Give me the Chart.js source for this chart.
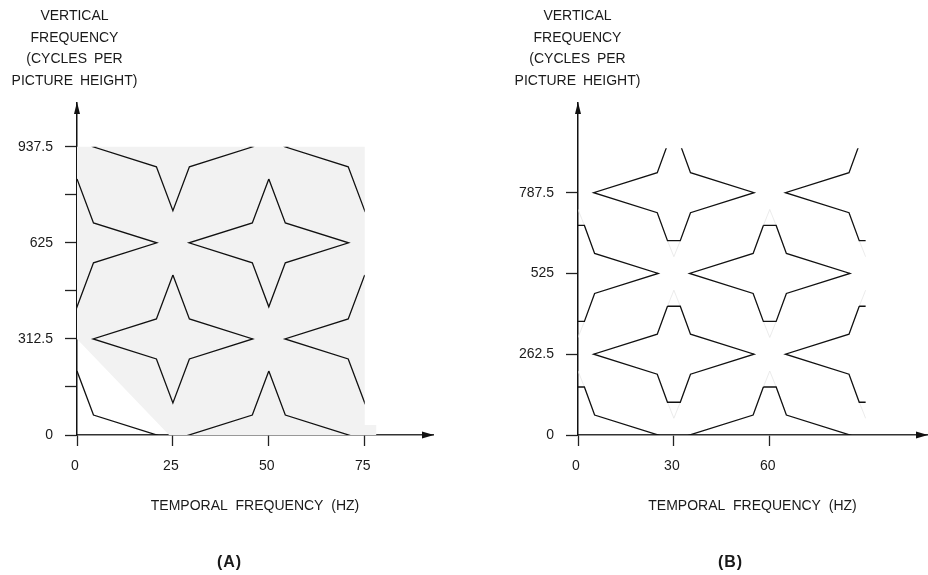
<!DOCTYPE html>
<html><head><meta charset="utf-8">
<script src="https://cdn.jsdelivr.net/npm/chart.js@4.4.1/dist/chart.umd.min.js"></script>
<style>
html,body{margin:0;padding:0;background:#fff;}
body{width:928px;height:575px;position:relative;overflow:hidden;font-family:"Liberation Sans",Arial,Helvetica,sans-serif;color:#1a1a1a;}
.cv{position:absolute;top:0;width:464px;height:575px;}
.ytitle{position:absolute;top:5px;width:220px;text-align:center;font-size:14px;line-height:21.5px;word-spacing:3px;white-space:nowrap;}
.panel{position:absolute;top:552px;width:80px;text-align:center;font-size:16px;font-weight:bold;line-height:20px;letter-spacing:1px;}
</style></head><body>
<div class="cv" style="left:0"><canvas id="cA" width="464" height="575"></canvas></div>
<div class="cv" style="left:464px"><canvas id="cB" width="464" height="575"></canvas></div>
<div class="ytitle" style="left:-35.5px">VERTICAL<br>FREQUENCY<br>(CYCLES PER<br>PICTURE HEIGHT)</div>
<div class="ytitle" style="left:467.5px">VERTICAL<br>FREQUENCY<br>(CYCLES PER<br>PICTURE HEIGHT)</div>
<div class="panel" style="left:189.5px">(A)</div>
<div class="panel" style="left:690.5px">(B)</div>
<script>
// ---------- Panel A data ----------
const aXTicks = [0, 25, 50, 75];
const aXLabels = ['0', '25', '50', '75'];
const aYTicks = [0, 156.25, 312.5, 468.75, 625, 781.25, 937.5];
const aYLabels = ['0', '', '312.5', '', '625', '', '937.5'];
const aCentersX = [0, 50, 25, 75, 0, 50, 25, 75];
const aCentersY = [0, 0, 312.5, 312.5, 625, 625, 937.5, 937.5];
const aStarDX = [0, 4.3, 20.8, 4.3, 0, -4.3, -20.8, -4.3, 0];
const aStarDY = [208, 65, 0, -65, -208, -65, 0, 65, 208];
const aShadeX = [0, 0, 75, 75, 78, 78, 24];
const aShadeY = [312.5, 937.5, 937.5, 32.5, 32.5, 0, 0];
const aClip = [0, 75, 0, 937.5];

// ---------- Panel B data ----------
const bXTicks = [0, 30, 60];
const bXLabels = ['0', '30', '60'];
const bYTicks = [0, 262.5, 525, 787.5];
const bYLabels = ['0', '262.5', '525', '787.5'];
const bCentersX = [0, 60, 30, 90, 0, 60, 30, 90];
const bCentersY = [0, 0, 262.5, 262.5, 525, 525, 787.5, 787.5];
const bStarDX = [-2, 2, 5.2, 25.1, 5.2, 2, -2, -5.2, -25.1, -5.2, -2];
const bStarDY = [156, 156, 65, 0, -65, -156, -156, -65, 0, 65, 156];
const bTipDX = [-2, 0, 2];
const bTipDY = [156, 208, 156];
const bClip = [0, 90, 0, 932];

const FONT = '"Liberation Sans", Arial, Helvetica, sans-serif';
const TXT = '#1a1a1a';

const clipPlugin = {
  id: 'boxclip',
  beforeDatasetDraw(chart, args) {
    const ds = chart.data.datasets[args.index];
    if (!ds.clipBox) return;
    const xs = chart.scales.x, ys = chart.scales.y, c = ds.clipBox;
    const l = xs.getPixelForValue(c[0]), r = xs.getPixelForValue(c[1]);
    const b = ys.getPixelForValue(c[2]), t = ys.getPixelForValue(c[3]);
    chart.ctx.save(); chart.ctx.beginPath(); chart.ctx.rect(l, t, r - l, b - t); chart.ctx.clip();
  },
  afterDatasetDraw(chart, args) {
    const ds = chart.data.datasets[args.index];
    if (ds.clipBox) chart.ctx.restore();
  }
};
const arrowPlugin = {
  id: 'arrows',
  afterDraw(chart) {
    const ctx = chart.ctx, a = chart.chartArea;
    const y0 = chart.scales.y.getPixelForValue(0);
    const x0 = chart.scales.x.getPixelForValue(0);
    ctx.save(); ctx.fillStyle = '#111';
    ctx.beginPath(); ctx.moveTo(a.right + 1, y0); ctx.lineTo(a.right - 11, y0 - 3.5); ctx.lineTo(a.right - 11, y0 + 3.5); ctx.closePath(); ctx.fill();
    ctx.beginPath(); ctx.moveTo(x0, a.top - 1); ctx.lineTo(x0 - 3, a.top + 11); ctx.lineTo(x0 + 3, a.top + 11); ctx.closePath(); ctx.fill();
    ctx.restore();
  }
};

function build(id, cfg) {
  const datasets = [];
  cfg.centersX.forEach((cx, i) => {
    const cy = cfg.centersY[i];
    datasets.push({
      data: cfg.starDX.map((dx, k) => ({ x: cx + dx, y: cy + cfg.starDY[k] })),
      borderColor: '#111', borderWidth: 1.3, clipBox: cfg.clip
    });
    if (cfg.tipDX) {
      [1, -1].forEach(sgn => {
        datasets.push({
          data: cfg.tipDX.map((dx, k) => ({ x: cx + dx, y: cy + sgn * cfg.tipDY[k] })),
          borderColor: '#e2e2e2', borderWidth: 0.7, clipBox: cfg.clip
        });
      });
    }
  });
  if (cfg.shadeX) {
    datasets.push({
      data: cfg.shadeX.map((x, k) => ({ x, y: cfg.shadeY[k] })),
      borderWidth: 0, borderColor: 'rgba(0,0,0,0)', backgroundColor: '#f2f2f2', fill: 'shape', order: 10
    });
  }
  datasets.forEach(d => { d.showLine = true; d.pointRadius = 0; d.tension = 0; if (d.fill === undefined) d.fill = false; if (d.order === undefined) d.order = 0; });

  new Chart(document.getElementById(id), {
    type: 'scatter',
    data: { datasets },
    options: {
      responsive: false, animation: false, devicePixelRatio: 1,
      layout: { padding: { left: cfg.padLeft, right: cfg.padRight, top: 103, bottom: 0 } },
      plugins: { legend: { display: false }, tooltip: { enabled: false } },
      scales: {
        x: {
          type: 'linear', min: 0, max: cfg.xMax,
          afterBuildTicks: s => { s.ticks = cfg.xTicks.map(v => ({ value: v })); },
          afterFit: s => { s.height = 140; },
          ticks: { autoSkip: false, maxRotation: 0, padding: 12, labelOffset: -2, color: TXT,
                   font: { size: 14, family: FONT }, callback: (v, i) => cfg.xLabels[i] },
          grid: { drawOnChartArea: false, drawTicks: true, tickLength: 11, tickColor: '#222', tickWidth: 1.3 },
          border: { display: true, color: '#333', width: 1.6 },
          title: { display: true, text: 'TEMPORAL  FREQUENCY  (HZ)', color: TXT,
                   font: { size: 14, family: FONT }, padding: { top: 0, bottom: 60 } }
        },
        y: {
          type: 'linear', min: 0, max: cfg.yMax,
          afterBuildTicks: s => { s.ticks = cfg.yTicks.map(v => ({ value: v })); },
          afterFit: s => { s.width = 60; },
          ticks: { autoSkip: false, padding: 12, color: TXT, font: { size: 14, family: FONT },
                   callback: (v, i) => cfg.yLabels[i] },
          grid: { drawOnChartArea: false, drawTicks: true, tickLength: 12, tickColor: '#222', tickWidth: 1.3 },
          border: { display: true, color: '#111', width: 1.5 }
        }
      }
    },
    plugins: [clipPlugin, arrowPlugin]
  });
}

build('cA', {
  xTicks: aXTicks, xLabels: aXLabels, yTicks: aYTicks, yLabels: aYLabels,
  centersX: aCentersX, centersY: aCentersY, starDX: aStarDX, starDY: aStarDY,
  shadeX: aShadeX, shadeY: aShadeY, clip: aClip,
  xMax: 92.8, yMax: 1080, padLeft: 17, padRight: 31
});
build('cB', {
  xTicks: bXTicks, xLabels: bXLabels, yTicks: bYTicks, yLabels: bYLabels,
  centersX: bCentersX, centersY: bCentersY, starDX: bStarDX, starDY: bStarDY,
  tipDX: bTipDX, tipDY: bTipDY, clip: bClip,
  xMax: 109.2, yMax: 1079, padLeft: 54, padRight: 1
});
</script>
</body></html>
